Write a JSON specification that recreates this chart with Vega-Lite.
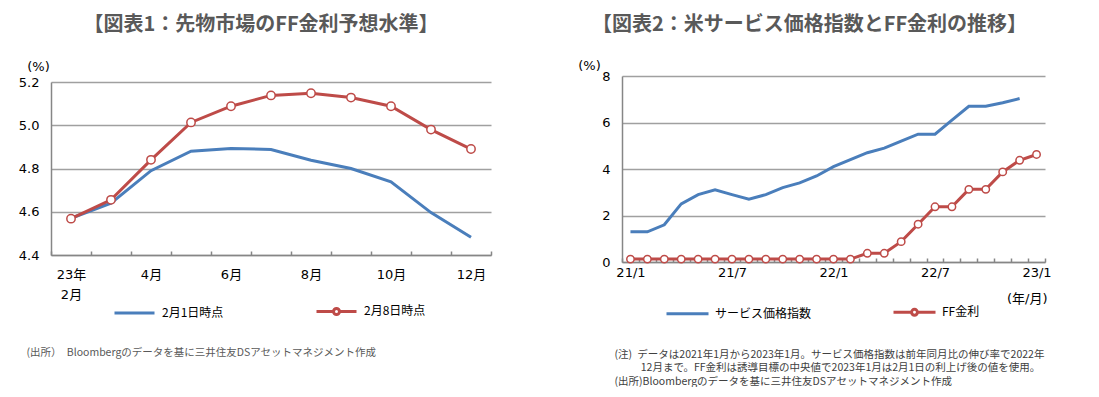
{
  "$schema": "https://vega.github.io/schema/vega-lite/v6.json",
  "background": "white",
  "padding": {"left": 18, "top": 14, "right": 0, "bottom": 0},
  "spacing": 85,
  "config": {
    "view": {"stroke": null},
    "font": "DejaVu Sans, Noto Sans CJK JP"
  },
  "datasets": {
    "fut": [
      {"month": "2月", "series": "2月1日時点", "value": 4.57},
      {"month": "3月", "series": "2月1日時点", "value": 4.64},
      {"month": "4月", "series": "2月1日時点", "value": 4.79},
      {"month": "5月", "series": "2月1日時点", "value": 4.88},
      {"month": "6月", "series": "2月1日時点", "value": 4.893},
      {"month": "7月", "series": "2月1日時点", "value": 4.888},
      {"month": "8月", "series": "2月1日時点", "value": 4.838},
      {"month": "9月", "series": "2月1日時点", "value": 4.80},
      {"month": "10月", "series": "2月1日時点", "value": 4.738},
      {"month": "11月", "series": "2月1日時点", "value": 4.596},
      {"month": "12月", "series": "2月1日時点", "value": 4.482},
      {"month": "2月", "series": "2月8日時点", "value": 4.568},
      {"month": "3月", "series": "2月8日時点", "value": 4.655},
      {"month": "4月", "series": "2月8日時点", "value": 4.84},
      {"month": "5月", "series": "2月8日時点", "value": 5.013},
      {"month": "6月", "series": "2月8日時点", "value": 5.088},
      {"month": "7月", "series": "2月8日時点", "value": 5.138},
      {"month": "8月", "series": "2月8日時点", "value": 5.148},
      {"month": "9月", "series": "2月8日時点", "value": 5.128},
      {"month": "10月", "series": "2月8日時点", "value": 5.088},
      {"month": "11月", "series": "2月8日時点", "value": 4.98},
      {"month": "12月", "series": "2月8日時点", "value": 4.89}
    ],
    "svc": [
      {"ym": "21/1", "series": "FF金利", "value": 0.125},
      {"ym": "21/2", "series": "FF金利", "value": 0.125},
      {"ym": "21/3", "series": "FF金利", "value": 0.125},
      {"ym": "21/4", "series": "FF金利", "value": 0.125},
      {"ym": "21/5", "series": "FF金利", "value": 0.125},
      {"ym": "21/6", "series": "FF金利", "value": 0.125},
      {"ym": "21/7", "series": "FF金利", "value": 0.125},
      {"ym": "21/8", "series": "FF金利", "value": 0.125},
      {"ym": "21/9", "series": "FF金利", "value": 0.125},
      {"ym": "21/10", "series": "FF金利", "value": 0.125},
      {"ym": "21/11", "series": "FF金利", "value": 0.125},
      {"ym": "21/12", "series": "FF金利", "value": 0.125},
      {"ym": "22/1", "series": "FF金利", "value": 0.125},
      {"ym": "22/2", "series": "FF金利", "value": 0.125},
      {"ym": "22/3", "series": "FF金利", "value": 0.375},
      {"ym": "22/4", "series": "FF金利", "value": 0.375},
      {"ym": "22/5", "series": "FF金利", "value": 0.875},
      {"ym": "22/6", "series": "FF金利", "value": 1.625},
      {"ym": "22/7", "series": "FF金利", "value": 2.375},
      {"ym": "22/8", "series": "FF金利", "value": 2.375},
      {"ym": "22/9", "series": "FF金利", "value": 3.125},
      {"ym": "22/10", "series": "FF金利", "value": 3.125},
      {"ym": "22/11", "series": "FF金利", "value": 3.875},
      {"ym": "22/12", "series": "FF金利", "value": 4.375},
      {"ym": "23/1", "series": "FF金利", "value": 4.625},
      {"ym": "21/1", "series": "サービス価格指数", "value": 1.3},
      {"ym": "21/2", "series": "サービス価格指数", "value": 1.3},
      {"ym": "21/3", "series": "サービス価格指数", "value": 1.6},
      {"ym": "21/4", "series": "サービス価格指数", "value": 2.5},
      {"ym": "21/5", "series": "サービス価格指数", "value": 2.9},
      {"ym": "21/6", "series": "サービス価格指数", "value": 3.1},
      {"ym": "21/7", "series": "サービス価格指数", "value": 2.9},
      {"ym": "21/8", "series": "サービス価格指数", "value": 2.7},
      {"ym": "21/9", "series": "サービス価格指数", "value": 2.9},
      {"ym": "21/10", "series": "サービス価格指数", "value": 3.2},
      {"ym": "21/11", "series": "サービス価格指数", "value": 3.4},
      {"ym": "21/12", "series": "サービス価格指数", "value": 3.7},
      {"ym": "22/1", "series": "サービス価格指数", "value": 4.1},
      {"ym": "22/2", "series": "サービス価格指数", "value": 4.4},
      {"ym": "22/3", "series": "サービス価格指数", "value": 4.7},
      {"ym": "22/4", "series": "サービス価格指数", "value": 4.9},
      {"ym": "22/5", "series": "サービス価格指数", "value": 5.2},
      {"ym": "22/6", "series": "サービス価格指数", "value": 5.5},
      {"ym": "22/7", "series": "サービス価格指数", "value": 5.5},
      {"ym": "22/8", "series": "サービス価格指数", "value": 6.1},
      {"ym": "22/9", "series": "サービス価格指数", "value": 6.7},
      {"ym": "22/10", "series": "サービス価格指数", "value": 6.7},
      {"ym": "22/11", "series": "サービス価格指数", "value": 6.85},
      {"ym": "22/12", "series": "サービス価格指数", "value": 7.03}
    ]
  },
  "resolve": {
    "scale": {"x": "independent", "y": "independent", "color": "independent"},
    "legend": {"color": "independent"}
  },
  "hconcat": [
    {
      "width": 440,
      "height": 179,
      "title": {
        "text": "【図表1：先物市場のFF金利予想水準】",
        "font": "Noto Sans CJK JP",
        "fontSize": 20,
        "fontWeight": "bold",
        "color": "#595959",
        "anchor": "middle",
        "frame": "group",
        "dx": -10,
        "offset": 25.5
      },
      "data": {"name": "fut"},
      "encoding": {
        "x": {
          "field": "month",
          "type": "ordinal",
          "sort": null,
          "scale": {"paddingInner": 0, "paddingOuter": 0},
          "axis": {
            "title": "(出所）　Bloombergのデータを基に三井住友DSアセットマネジメント作成",
            "titleFont": "Noto Sans CJK JP",
            "titleFontSize": 10.5,
            "titleFontWeight": "normal",
            "titleColor": "#595959",
            "titleAnchor": "start",
            "titleAlign": "left",
            "titleBaseline": "top",
            "titleX": -25,
            "titleY": 92,
            "labelExpr": "datum.value == '2月' ? ['23年', '2月'] : (indexof(['4月','6月','8月','10月','12月'], datum.value) >= 0 ? datum.value : '')",
            "labelAngle": 0,
            "labelFontSize": 13,
            "labelColor": "#000000",
            "labelBaseline": "top",
            "labelLineHeight": 20,
            "labelPadding": 17,
            "labelOverlap": false,
            "tickBand": "extent",
            "tickSize": -4,
            "tickColor": "#868686",
            "tickWidth": 1.5,
            "domainColor": "#868686",
            "domainWidth": 1.5,
            "grid": false
          }
        },
        "y": {
          "field": "value",
          "type": "quantitative",
          "scale": {"domain": [4.4, 5.2], "range": [179, 6], "nice": false, "zero": false},
          "axis": {
            "title": "(%)",
            "titleAngle": 0,
            "titleX": -13,
            "titleY": -10,
            "titleAlign": "center",
            "titleBaseline": "middle",
            "titleFontSize": 13,
            "titleFontWeight": "normal",
            "titleColor": "#000000",
            "values": [4.4, 4.6, 4.8, 5.0, 5.2],
            "format": ".1f",
            "grid": true,
            "gridColor": "#a0a0a0",
            "gridWidth": 1.5,
            "ticks": false,
            "domainColor": "#868686",
            "domainWidth": 1.5,
            "labelPadding": 12,
            "labelFontSize": 13,
            "labelColor": "#000000"
          }
        }
      },
      "layer": [
        {
          "mark": {"type": "line", "strokeWidth": 3},
          "encoding": {
            "color": {
              "field": "series",
              "type": "nominal",
              "scale": {"domain": ["2月1日時点", "2月8日時点"], "range": ["#4a7ebb", "#be4b48"]},
              "legend": {
                "orient": "none",
                "legendX": 62,
                "legendY": 213.7,
                "direction": "horizontal",
                "title": null,
                "padding": 0,
                "symbolType": "M-1,0H1",
                "symbolSize": 1600,
                "symbolStrokeWidth": 3,
                "symbolFillColor": "white",
                "labelFont": "Noto Sans CJK JP",
                "labelFontSize": 12,
                "labelColor": "#000000",
                "labelOffset": 6,
                "columnPadding": 86,
                "encode": {
                  "symbols": {
                    "update": {
                      "shape": {"signal": "datum.value == '2月8日時点' ? 'M-1,0H-0.15M0.15,0H1M-0.15,0A0.15,0.15,0,1,1,0.15,0A0.15,0.15,0,1,1,-0.15,0' : 'M-1,0H1'"},
                      "fill": {"value": "white"}
                    }
                  }
                }
              }
            }
          }
        },
        {
          "transform": [{"filter": "datum.series == '2月8日時点'"}],
          "mark": {"type": "point", "filled": true, "fill": "white", "stroke": "#be4b48", "strokeWidth": 1.5, "size": 70, "opacity": 1}
        }
      ]
    },
    {
      "width": 423,
      "height": 186,
      "title": {
        "text": "【図表2：米サービス価格指数とFF金利の推移】",
        "font": "Noto Sans CJK JP",
        "fontSize": 20,
        "fontWeight": "bold",
        "color": "#595959",
        "anchor": "middle",
        "frame": "group",
        "dx": -24,
        "offset": 24.5
      },
      "data": {"name": "svc"},
      "encoding": {
        "x": {
          "field": "ym",
          "type": "ordinal",
          "sort": null,
          "scale": {"paddingInner": 0, "paddingOuter": 0},
          "axis": {
            "title": [
              "(注)\u2002データは2021年1月から2023年1月。サービス価格指数は前年同月比の伸び率で2022年",
              "\u200b　　\u200212月まで。FF金利は誘導目標の中央値で2023年1月は2月1日の利上げ後の値を使用。",
              "(出所)Bloombergのデータを基に三井住友DSアセットマネジメント作成"
            ],
            "titleFont": "Noto Sans CJK JP",
            "titleFontSize": 10.5,
            "titleFontWeight": "normal",
            "titleColor": "#404040",
            "titleAnchor": "start",
            "titleAlign": "left",
            "titleBaseline": "top",
            "titleLineHeight": 13.5,
            "titleX": -8,
            "titleY": 87,
            "labelExpr": "datum.value == '23/1' ? ['23/1', '(年/月)\u2002\u2002\u2002\u200b'] : (indexof(['21/1','21/7','22/1','22/7'], datum.value) >= 0 ? datum.value : '')",
            "labelAngle": 0,
            "labelFontSize": 13,
            "labelColor": "#000000",
            "labelBaseline": "top",
            "labelLineHeight": 26,
            "labelPadding": 8,
            "labelOverlap": false,
            "tickBand": "extent",
            "tickSize": -4,
            "tickColor": "#868686",
            "tickWidth": 1.5,
            "domainColor": "#868686",
            "domainWidth": 1.5,
            "grid": false
          }
        },
        "y": {
          "field": "value",
          "type": "quantitative",
          "scale": {"domain": [0, 8], "nice": false},
          "axis": {
            "title": "(%)",
            "titleAngle": 0,
            "titleX": -33,
            "titleY": -11,
            "titleAlign": "center",
            "titleBaseline": "middle",
            "titleFontSize": 13,
            "titleFontWeight": "normal",
            "titleColor": "#000000",
            "values": [0, 2, 4, 6, 8],
            "grid": true,
            "gridColor": "#a0a0a0",
            "gridWidth": 1.5,
            "ticks": false,
            "domainColor": "#868686",
            "domainWidth": 1.5,
            "labelPadding": 12,
            "labelFontSize": 13,
            "labelColor": "#000000"
          }
        }
      },
      "layer": [
        {
          "mark": {"type": "line", "strokeWidth": 3},
          "encoding": {
            "color": {
              "field": "series",
              "type": "nominal",
              "scale": {"domain": ["サービス価格指数", "FF金利"], "range": ["#4a7ebb", "#be4b48"]},
              "legend": {
                "orient": "none",
                "legendX": 43,
                "legendY": 213.5,
                "direction": "horizontal",
                "title": null,
                "padding": 0,
                "symbolType": "M-1,0H1",
                "symbolSize": 1764,
                "symbolStrokeWidth": 3,
                "symbolFillColor": "white",
                "labelFont": "Noto Sans CJK JP",
                "labelFontSize": 12,
                "labelColor": "#000000",
                "labelOffset": 5,
                "columnPadding": 75,
                "encode": {
                  "symbols": {
                    "update": {
                      "shape": {"signal": "datum.value == 'FF金利' ? 'M-1,0H-0.14M0.14,0H1M-0.14,0A0.14,0.14,0,1,1,0.14,0A0.14,0.14,0,1,1,-0.14,0' : 'M-1,0H1'"},
                      "fill": {"value": "white"}
                    }
                  }
                }
              }
            }
          }
        },
        {
          "transform": [{"filter": "datum.series == 'FF金利'"}],
          "mark": {"type": "point", "filled": true, "fill": "white", "stroke": "#be4b48", "strokeWidth": 1.5, "size": 55, "opacity": 1}
        }
      ]
    }
  ]
}
